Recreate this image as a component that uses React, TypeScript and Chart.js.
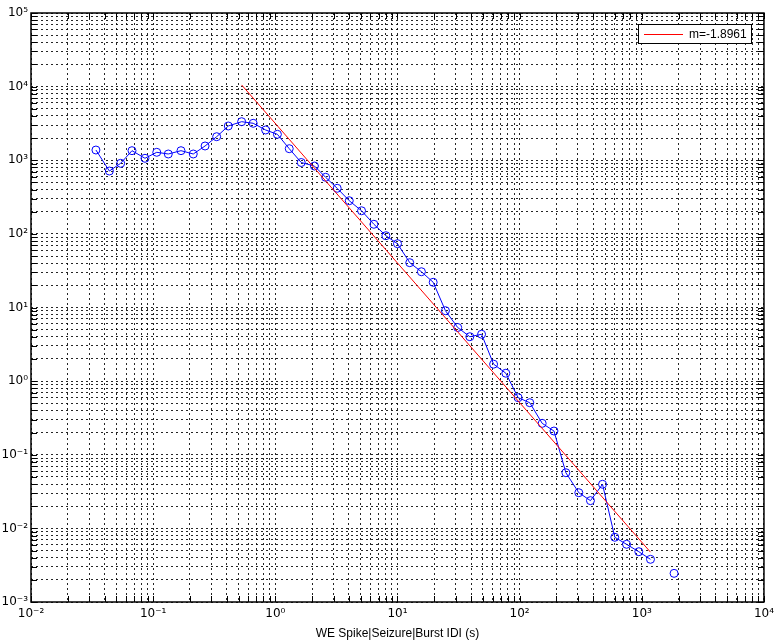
import React, { useEffect, useRef } from 'react';
import { Chart, registerables } from 'chart.js';

Chart.register(...registerables);

// ---- data ----
const xValues = [
  0.034, 0.0438, 0.0542, 0.0671, 0.0857, 0.107, 0.133, 0.169, 0.213, 0.266,
  0.331, 0.412, 0.53, 0.659, 0.833, 1.04, 1.3, 1.63, 2.09, 2.58,
  3.21, 4.03, 5.08, 6.41, 8.04, 10.0, 12.6, 15.7, 19.6, 24.7,
  31.1, 39.1, 48.8, 61.2, 77.1, 97.2, 121, 153, 191, 239,
  305, 380, 477, 601, 750, 945, 1178, 1480, 1837,
];
const yValues: (number | null)[] = [
  1377, 714, 909, 1349, 1063, 1282, 1216, 1349, 1216, 1562,
  2089, 2919, 3339, 3177, 2576, 2251, 1435, 932, 835, 587,
  416, 282, 206, 135, 94.4, 73.6, 40.6, 30.6, 22.0, 9.05,
  5.35, 4.01, 4.33, 1.7, 1.28, 0.596, 0.509, 0.267, 0.21, 0.057,
  0.0305, 0.0238, 0.0397, 0.00757, 0.00608, 0.00482, 0.0038, null, 0.00245,
];
const fitX = [0.53, 1178];
const fitY = [10540, 0.00475];
const fitLabel = 'm=-1.8961';

const xDecades = [-2, -1, 0, 1, 2, 3, 4];
const xTickLabels = ['10⁻²', '10⁻¹', '10⁰', '10¹', '10²', '10³', '10⁴'];
const yDecades = [-3, -2, -1, 0, 1, 2, 3, 4, 5];
const yTickLabels = ['10⁻³', '10⁻²', '10⁻¹', '10⁰', '10¹', '10²', '10³', '10⁴', '10⁵'];
const xTitle = 'WE Spike|Seizure|Burst IDI (s)';

const FONT = '"Liberation Sans", Arial, Helvetica, sans-serif';
const TICK_FONT = '"DejaVu Sans", "Liberation Sans", sans-serif';

function logTickValues(decades: number[]) {
  const out: number[] = [];
  for (let i = 0; i < decades.length - 1; i++) {
    for (let d = 1; d <= 9; d++) out.push(Number((d * Math.pow(10, decades[i])).toPrecision(6)));
  }
  out.push(Math.pow(10, decades[decades.length - 1]));
  return out;
}

function labelFor(value: number, decades: number[], labels: string[]) {
  const e = Math.round(Math.log10(value));
  const p = Math.pow(10, e);
  if (Math.abs(value - p) / p < 1e-6) {
    const idx = decades.indexOf(e);
    return idx >= 0 ? labels[idx] : '';
  }
  return '';
}

const framePlugin = {
  id: 'matlabFrame',
  afterDraw(chart: any) {
    const { ctx, chartArea } = chart;
    const { left, right, top, bottom } = chartArea;
    const xs = chart.scales.x;
    const ys = chart.scales.y;
    ctx.save();
    ctx.strokeStyle = '#000';
    ctx.lineWidth = 1;
    ctx.setLineDash([]);
    // inward ticks
    ctx.beginPath();
    xs.ticks.forEach((t: any) => {
      const px = Math.round(xs.getPixelForValue(t.value)) + 0.5;
      ctx.moveTo(px, bottom);
      ctx.lineTo(px, bottom - 6);
      ctx.moveTo(px, top);
      ctx.lineTo(px, top + 6);
    });
    ys.ticks.forEach((t: any) => {
      const py = Math.round(ys.getPixelForValue(t.value)) + 0.5;
      ctx.moveTo(left, py);
      ctx.lineTo(left + 6, py);
      ctx.moveTo(right, py);
      ctx.lineTo(right - 6, py);
    });
    ctx.stroke();
    // box
    ctx.lineWidth = 1.5;
    ctx.strokeRect(left, top, right - left, bottom - top);

    // legend
    ctx.font = '12px ' + FONT;
    const tw = ctx.measureText(fitLabel).width;
    const w = Math.round(6 + 39 + 6 + tw + 4);
    const h = 19;
    const lx = Math.round(right - 13 - w);
    const ly = Math.round(top + 11);
    ctx.fillStyle = '#fff';
    ctx.fillRect(lx, ly, w, h);
    ctx.lineWidth = 1;
    ctx.strokeStyle = '#000';
    ctx.strokeRect(lx + 0.5, ly + 0.5, w, h);
    ctx.fillStyle = '#000';
    ctx.textBaseline = 'middle';
    ctx.textAlign = 'left';
    ctx.fillText(fitLabel, lx + 51, ly + h / 2 + 1);
    ctx.beginPath();
    ctx.strokeStyle = '#ff0000';
    ctx.lineWidth = 1;
    ctx.moveTo(lx + 6, ly + 10.5);
    ctx.lineTo(lx + 45, ly + 10.5);
    ctx.stroke();
    ctx.restore();
  },
};

export default function App() {
  const canvasRef = useRef<HTMLCanvasElement | null>(null);

  useEffect(() => {
    document.body.style.margin = '0';
    const canvas = canvasRef.current;
    if (!canvas) return;

    const mainData = xValues.map((x, i) => ({ x, y: yValues[i] }));
    const fitData = fitX.map((x, i) => ({ x, y: fitY[i] }));

    const gridCommon = {
      color: 'rgba(0,0,0,0.85)',
      lineWidth: 1,
      drawTicks: false,
    };

    const chart = new Chart(canvas, {
      type: 'line',
      data: {
        datasets: [
          {
            label: 'data',
            data: mainData as any,
            borderColor: '#0000ff',
            borderWidth: 1,
            pointStyle: 'circle',
            pointRadius: 4,
            pointBorderColor: '#0000ff',
            pointBackgroundColor: 'rgba(0,0,0,0)',
            pointBorderWidth: 1,
            spanGaps: false,
            fill: false,
            tension: 0,
            order: 2,
          },
          {
            label: fitLabel,
            data: fitData as any,
            borderColor: '#ff0000',
            borderWidth: 1,
            pointRadius: 0,
            fill: false,
            tension: 0,
            order: 1,
          },
        ],
      },
      options: {
        animation: false,
        responsive: false,
        maintainAspectRatio: false,
        layout: { padding: { top: 13, right: 15, left: 0, bottom: 0 } },
        plugins: {
          legend: { display: false },
          tooltip: { enabled: false },
        },
        scales: {
          x: {
            type: 'logarithmic',
            min: 0.01,
            max: 10000,
            grid: gridCommon,
            border: { display: false, dash: [2, 3] },
            afterBuildTicks: (scale: any) => {
              scale.ticks = logTickValues(xDecades).map((v) => ({ value: v }));
            },
            afterFit: (scale: any) => {
              scale.height = 42;
            },
            ticks: {
              autoSkip: false,
              maxRotation: 0,
              minRotation: 0,
              padding: 5,
              color: '#000',
              font: { family: TICK_FONT, size: 12 },
              callback: (value: any) => labelFor(Number(value), xDecades, xTickLabels),
            },
            title: {
              display: true,
              text: xTitle,
              color: '#000',
              font: { family: FONT, size: 12 },
              padding: { top: 0, bottom: 3 },
            },
          },
          y: {
            type: 'logarithmic',
            min: 0.001,
            max: 100000,
            grid: gridCommon,
            border: { display: false, dash: [2, 3] },
            afterBuildTicks: (scale: any) => {
              scale.ticks = logTickValues(yDecades).map((v) => ({ value: v }));
            },
            afterFit: (scale: any) => {
              scale.width = 31;
            },
            ticks: {
              autoSkip: false,
              padding: 3,
              color: '#000',
              font: { family: TICK_FONT, size: 12 },
              callback: (value: any) => labelFor(Number(value), yDecades, yTickLabels),
            },
          },
        },
      } as any,
      plugins: [framePlugin],
    });

    return () => chart.destroy();
  }, []);

  return (
    <div style={{ width: 779, height: 644, background: '#fff' }}>
      <canvas ref={canvasRef} width={779} height={644} style={{ display: 'block' }} />
    </div>
  );
}
